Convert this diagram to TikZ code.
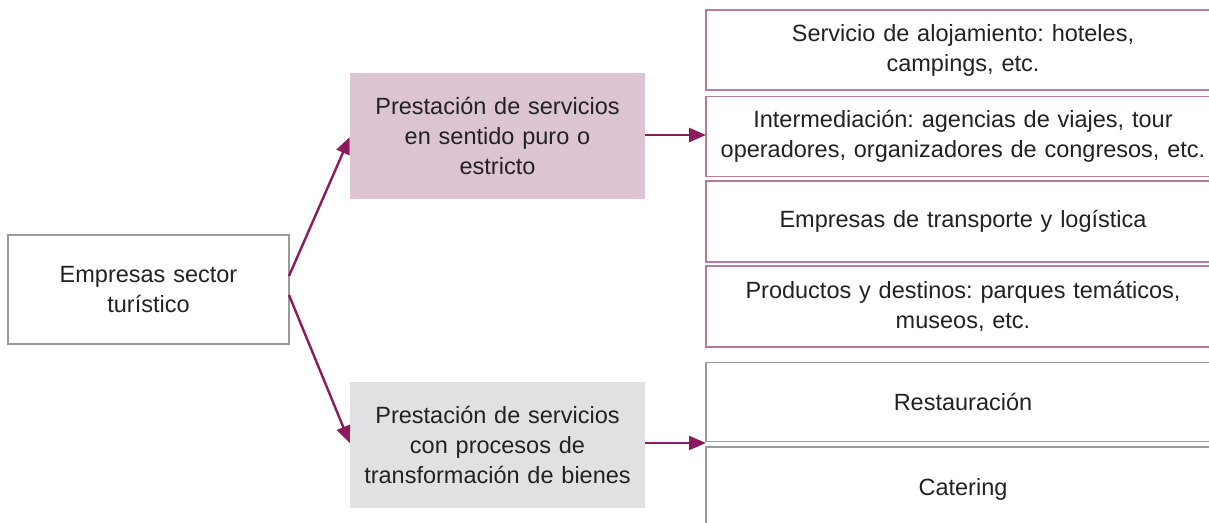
\documentclass[tikz,border=0pt]{standalone}
\usepackage{fontspec}
\setmainfont{Liberation Sans}
\usetikzlibrary{arrows.meta}
\frenchspacing
\definecolor{arr}{HTML}{8B1A5E}
\definecolor{pinkfill}{HTML}{DCC4D2}
\definecolor{grayfill}{HTML}{E1E1E3}
\definecolor{pinkline}{HTML}{B57A9C}
\definecolor{grayline}{HTML}{9A9A9A}
\definecolor{txt}{HTML}{222222}
\tikzset{
  base/.style={rectangle, inner sep=0pt, align=center, text=txt,
    font=\fontsize{23.5}{30}\selectfont},
  leftbox/.style={base, draw=grayline, line width=1.6pt, minimum width=281pt, minimum height=109pt, text width=260pt},
  midpink/.style={base, fill=pinkfill, minimum width=295pt, minimum height=126pt, text width=290pt},
  midgray/.style={base, fill=grayfill, minimum width=295pt, minimum height=126pt, text width=290pt},
  rpink/.style={base, draw=pinkline, line width=1.6pt, minimum width=514pt, text width=510pt},
  rgray/.style={base, draw=grayline, line width=1.6pt, minimum width=514pt, text width=510pt},
  conn/.style={draw=arr, line width=2.4pt, -{Triangle[length=17pt,width=14pt]}}
}
\begin{document}
\begin{tikzpicture}[x=1pt,y=-1pt]
\useasboundingbox[fill=white] (0,0) rectangle (1209,522);
\node[leftbox] (emp) at (148.5,289.5) {Empresas sector\\turístico};
\node[midpink] (pura) at (497.5,136) {Prestación de servicios\\en sentido puro o\\estricto};
\node[midgray] (trans) at (497.5,445) {Prestación de servicios\\con procesos de\\transformación de bienes};
\node[rpink, minimum height=80pt] (r1) at (963,50) {Servicio de alojamiento: hoteles,\\campings, etc.};
\node[rpink, minimum height=80pt] (r2) at (963,136.5) {Intermediación: agencias de viajes, tour\\operadores, organizadores de congresos, etc.};
\node[rpink, minimum height=81pt] (r3) at (963,221.5) {Empresas de transporte y logística};
\node[rpink, minimum height=81pt] (r4) at (963,306.5) {Productos y destinos: parques temáticos,\\museos, etc.};
\node[rgray, minimum height=79pt] (r5) at (963,402) {Restauración};
\node[rgray, minimum height=84pt] (r6) at (963,489) {Catering};
\coordinate (a1s) at (289,276);
\coordinate (a2s) at (289,295);
\coordinate (m1) at (706,135);
\coordinate (m2) at (706,443);
\draw[conn] (a1s) -- (pura.west |- 0,137);
\draw[conn] (a2s) -- (trans.west |- 0,443);
\draw[conn] (pura.east |- m1) -- (m1);
\draw[conn] (trans.east |- m2) -- (m2);
\end{tikzpicture}
\end{document}
